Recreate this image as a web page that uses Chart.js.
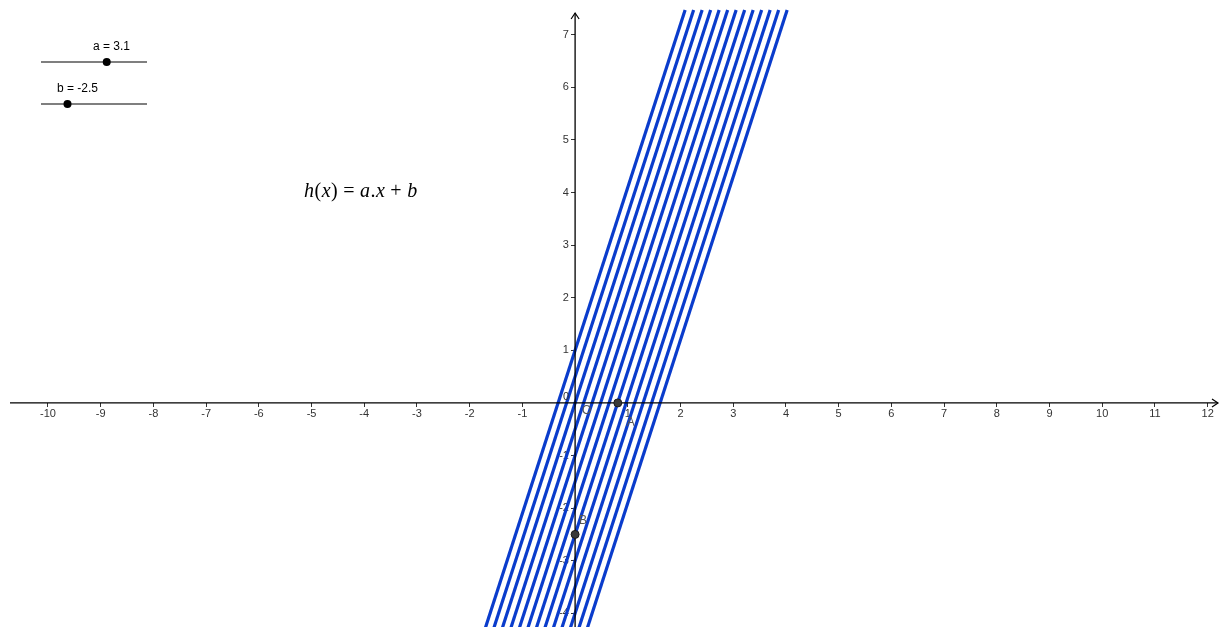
<!DOCTYPE html>
<html>
<head>
<meta charset="utf-8">
<script src="https://cdn.jsdelivr.net/npm/chart.js@4.4.0/dist/chart.umd.min.js"></script>
<style>
  html, body { margin: 0; padding: 0; background: #fff; }
  #wrap { position: relative; width: 1224px; height: 627px; }
</style>
</head>
<body>
<div id="wrap"><canvas id="plotGraph"></canvas></div>
<script>
// スライダー
const sliderNames = ["a", "b"]
const sliderValues = [3.1, -2.5]
const sliderMins = [0, -5]
const sliderMaxs = [5, 5]

// 軌跡として残った直線 h(x) = a.x + b の切片
const traceIntercepts = [1, 0.5, 0, -0.5, -1, -1.5, -2, -2.5, -3, -3.5, -4, -4.5, -5]
const traceTop = 7.47
const traceBottom = -4.6

// 点
const pointNames = ["A", "B"]
const pointX = [0.81, 0]
const pointY = [0, -2.5]

// 目盛り
const xTicks = [-10, -9, -8, -7, -6, -5, -4, -3, -2, -1, 1, 2, 3, 4, 5, 6, 7, 8, 9, 10, 11, 12]
const yTicks = [-4, -3, -2, -1, 1, 2, 3, 4, 5, 6, 7]

const xRange = [-10.91, 12.31]
const yRange = [-4.26, 7.66]

// 直線のデータ
let lineSets = traceIntercepts.map(b => {
  let a = sliderValues[0]
  return {
    type: "line",
    data: [
      { x: (traceBottom - b) / a, y: traceBottom },
      { x: (traceTop - b) / a, y: traceTop }
    ],
    borderColor: "#0a3ccc",
    borderWidth: 3.2,
    pointRadius: 0,
    fill: false,
    showLine: true,
    order: 1
  }
})

let pointSet = {
  type: "scatter",
  data: pointX.map((x, i) => ({ x: x, y: pointY[i] })),
  backgroundColor: "#3a3a3a",
  borderColor: "#1a1a1a",
  borderWidth: 1,
  pointRadius: 4,
  order: 0
}

// 軸線（直線の上、点の下に描く）
const axisLines = {
  id: "axisLines",
  beforeDatasetDraw(chart, args) {
    if (args.index !== lineSets.length) return
    let ctx = chart.ctx
    let ox = chart.scales.x.getPixelForValue(0)
    let oy = chart.scales.y.getPixelForValue(0)
    ctx.save()
    ctx.strokeStyle = "#000"
    ctx.lineWidth = 1.3
    ctx.beginPath()
    ctx.moveTo(10, oy); ctx.lineTo(1218, oy)
    ctx.moveTo(ox, chart.chartArea.bottom); ctx.lineTo(ox, 13)
    ctx.stroke()
    ctx.lineWidth = 1.2
    ctx.beginPath()
    ctx.moveTo(1212, oy - 4); ctx.lineTo(1218, oy); ctx.lineTo(1212, oy + 4)
    ctx.moveTo(ox - 4, 19); ctx.lineTo(ox, 13); ctx.lineTo(ox + 4, 19)
    ctx.stroke()
    ctx.restore()
  }
}

// スライダー・数式・ラベルなど
const extras = {
  id: "extras",
  afterDraw(chart) {
    let ctx = chart.ctx
    let xs = chart.scales.x
    let ys = chart.scales.y
    let ox = xs.getPixelForValue(0)
    let oy = ys.getPixelForValue(0)
    ctx.save()

    // 原点の 0
    ctx.fillStyle = "#333"
    ctx.font = "11px 'Liberation Sans', Arial, sans-serif"
    ctx.textAlign = "right"
    ctx.textBaseline = "middle"
    ctx.fillText("0", ox - 6, oy - 6)

    // 点のラベル
    ctx.fillStyle = "#555"
    ctx.font = "12px 'Liberation Sans', Arial, sans-serif"
    ctx.textAlign = "left"
    ctx.fillText("O", ox + 7, oy + 8)
    let labelOffsets = [[9, 20], [4, -14]]
    pointNames.forEach((n, i) => {
      let px = xs.getPixelForValue(pointX[i])
      let py = ys.getPixelForValue(pointY[i])
      ctx.fillText(n, px + labelOffsets[i][0], py + labelOffsets[i][1])
    })

    // スライダー
    let sliderY = [62, 104]
    let sliderLabelX = [93, 57]
    let x0 = 41, x1 = 147
    sliderNames.forEach((n, i) => {
      ctx.strokeStyle = "#555"
      ctx.lineWidth = 1.4
      ctx.beginPath()
      ctx.moveTo(x0, sliderY[i]); ctx.lineTo(x1, sliderY[i])
      ctx.stroke()
      let t = (sliderValues[i] - sliderMins[i]) / (sliderMaxs[i] - sliderMins[i])
      ctx.fillStyle = "#000"
      ctx.beginPath()
      ctx.arc(x0 + t * (x1 - x0), sliderY[i], 4, 0, Math.PI * 2)
      ctx.fill()
      ctx.font = "12px 'Liberation Sans', Arial, sans-serif"
      ctx.textAlign = "left"
      ctx.textBaseline = "alphabetic"
      ctx.fillText(n + " = " + sliderValues[i], sliderLabelX[i], sliderY[i] - 12)
    })

    // 数式 h(x) = a.x + b
    let parts = [["h", 1], ["(", 0], ["x", 1], [")", 0], [" = ", 0], ["a", 1], [".", 0], ["x", 1], [" + ", 0], ["b", 1]]
    let fx = 304
    ctx.fillStyle = "#000"
    ctx.textBaseline = "alphabetic"
    parts.forEach(p => {
      ctx.font = (p[1] ? "italic " : "") + "20px 'Liberation Serif', 'DejaVu Serif', serif"
      ctx.fillText(p[0], fx, 197)
      fx += ctx.measureText(p[0]).width + 0.5
    })
    ctx.restore()
  }
}

function fixTicks(list) {
  return function (scale) {
    scale.ticks = list.map(v => ({ value: v }))
  }
}

// ラベルのはみ出し分の余白を消す
function noPadding(scale) {
  scale.paddingLeft = 0
  scale.paddingRight = 0
  scale.paddingTop = 0
  scale.paddingBottom = 0
}

let mainChartObj = new Chart(document.getElementById("plotGraph"), {
  type: "scatter",
  data: { datasets: lineSets.concat([pointSet]) },
  options: {
    responsive: true,
    maintainAspectRatio: false,
    animation: false,
    layout: { padding: 0, autoPadding: false },
    plugins: { legend: { display: false }, tooltip: { enabled: false } },
    scales: {
      x: {
        type: "linear",
        position: { y: 0 },
        min: xRange[0],
        max: xRange[1],
        afterBuildTicks: fixTicks(xTicks),
        afterFit: noPadding,
        grid: { drawOnChartArea: false, drawTicks: true, tickLength: 4, color: "#333" },
        border: { display: false },
        ticks: { color: "#333", padding: 0, maxRotation: 0, autoSkip: false, font: { family: "'Liberation Sans', Arial, sans-serif", size: 11 } }
      },
      y: {
        type: "linear",
        position: { x: 0 },
        min: yRange[0],
        max: yRange[1],
        afterBuildTicks: fixTicks(yTicks),
        afterFit: noPadding,
        grid: { drawOnChartArea: false, drawTicks: true, tickLength: 4, color: "#333" },
        border: { display: false },
        ticks: {
          color: "#333", autoSkip: false,
          callback: v => v + "  ",
          font: { family: "'Liberation Sans', Arial, sans-serif", size: 11 }
        }
      }
    }
  },
  plugins: [axisLines, extras]
})
</script>
</body>
</html>
